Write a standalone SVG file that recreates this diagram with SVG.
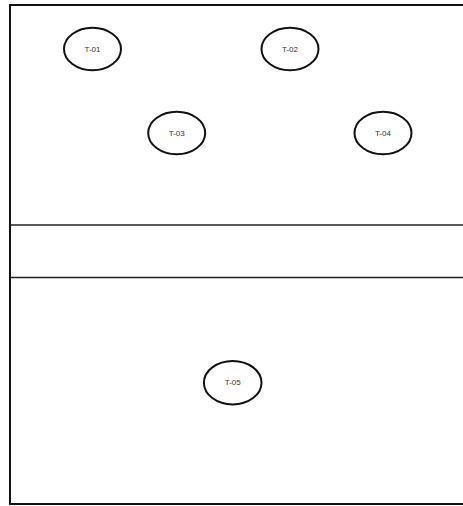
<svg xmlns="http://www.w3.org/2000/svg" width="463" height="506" viewBox="0 0 463 506">
<style>
.frame{fill:none;stroke:#111;stroke-width:2}
.div{stroke:#222;stroke-width:1.5}
.node ellipse{fill:#fff;stroke:#111;stroke-width:2}
.node text{font-family:"Liberation Sans",Arial,sans-serif;font-size:8px;fill:#333;text-anchor:middle;dominant-baseline:central}
</style>
<rect width="463" height="506" fill="#fff"/>
<path class="frame" d="M463,5 H10 V504 H463"/>
<line class="div" x1="10" y1="225" x2="463" y2="225"/>
<line class="div" x1="10" y1="277.5" x2="463" y2="277.5"/>
<g id="connectors"></g>
<g id="T-01" class="node"><ellipse cx="92.5" cy="49" rx="28.5" ry="21.3"/><text x="92.5" y="49">T-01</text></g>
<g id="T-02" class="node"><ellipse cx="290" cy="49" rx="28.5" ry="21.3"/><text x="290" y="49">T-02</text></g>
<g id="T-03" class="node"><ellipse cx="176.7" cy="133" rx="28.5" ry="21.3"/><text x="176.7" y="133">T-03</text></g>
<g id="T-04" class="node"><ellipse cx="383" cy="133" rx="28.5" ry="21.3"/><text x="383" y="133">T-04</text></g>
<g id="T-05" class="node"><ellipse cx="232.7" cy="382.7" rx="28.8" ry="21.7"/><text x="232.7" y="382.7">T-05</text></g>
</svg>
